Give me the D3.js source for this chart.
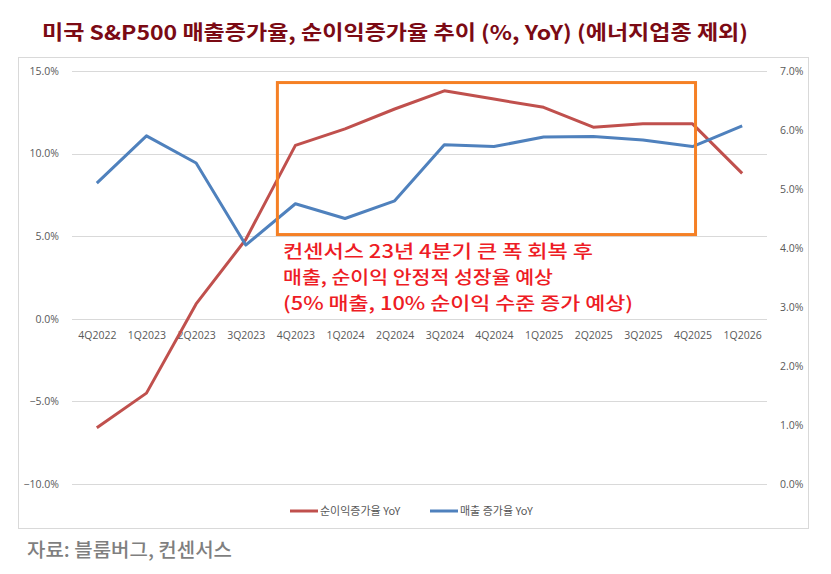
<!DOCTYPE html>
<html><head><meta charset="utf-8">
<script src="https://cdn.jsdelivr.net/npm/d3@7"></script>
<style>body{margin:0;background:#fff}svg{display:block}</style>
</head><body>
<svg id="c" width="831" height="574"></svg>
<script>
const categories = ["4Q2022","1Q2023","2Q2023","3Q2023","4Q2023","1Q2024","2Q2024","3Q2024","4Q2024","1Q2025","2Q2025","3Q2025","4Q2025","1Q2026"];
const netIncomeGrowth = [-6.6,-4.5,0.9,4.8,10.5,11.5,12.7,13.8,13.3,12.8,11.6,11.8,11.8,8.8];
const salesGrowth = [5.1,5.9,5.44,4.05,4.75,4.5,4.8,5.75,5.72,5.88,5.89,5.83,5.72,6.07];
const leftTicks = [-10,-5,0,5,10,15];
const rightTicks = [0,1,2,3,4,5,6,7];
const titleText = "미국 S&P500 매출증가율, 순이익증가율 추이 (%, YoY) (에너지업종 제외)";
const noteLines = ["컨센서스 23년 4분기 큰 폭 회복 후","매출, 순이익 안정적 성장율 예상","(5% 매출, 10% 순이익 수준 증가 예상)"];
const seriesNames = ["순이익증가율 YoY","매출 증가율 YoY"];
const boxRange = ["4Q2023","4Q2025"];
const sourceText = "자료: 블룸버그, 컨센서스";

const svg = d3.select("#c");
const font = "'Noto Sans CJK KR', sans-serif";
const plot = {l:72, r:767, t:71, b:484};
const x = d3.scalePoint().domain(categories).range([plot.l, plot.r]).padding(0.5);
const yL = d3.scaleLinear().domain([-10,15]).range([plot.b, plot.t]);
const yR = d3.scaleLinear().domain([0,7]).range([plot.b, plot.t]);

// chart border
svg.append("rect").attr("x",18.5).attr("y",57.5).attr("width",790).attr("height",471)
  .attr("fill","#fff").attr("stroke","#d9d9d9");

// title
svg.append("text").attr("x",395).attr("y",40).attr("text-anchor","middle")
  .attr("font-family",font).attr("font-weight","bold").attr("font-size",20)
  .attr("fill","#7b0a14").attr("textLength",706).attr("lengthAdjust","spacingAndGlyphs")
  .text(titleText);

// gridlines
svg.append("g").selectAll("line").data(leftTicks).join("line")
  .attr("x1",plot.l).attr("x2",plot.r).attr("y1",d=>Math.round(yL(d))+0.5).attr("y2",d=>Math.round(yL(d))+0.5)
  .attr("stroke","#d9d9d9");

// left axis
const la = svg.append("g").attr("transform",`translate(${plot.l-10},0)`)
  .call(d3.axisLeft(yL).tickValues(leftTicks).tickSize(0).tickFormat(d=>d3.format(".1f")(d)+"%"));
la.select(".domain").remove();
la.selectAll("text").attr("font-family","'Open Sans', sans-serif").attr("font-size",10.5).attr("fill","#595959");

// right axis
const ra = svg.append("g").attr("transform",`translate(${plot.r+10},0)`)
  .call(d3.axisRight(yR).tickValues(rightTicks).tickSize(0).tickFormat(d=>d3.format(".1f")(d)+"%"));
ra.select(".domain").remove();
ra.selectAll("text").attr("font-family","'Open Sans', sans-serif").attr("font-size",10.5).attr("fill","#595959");

// x axis labels at y=0
const xa = svg.append("g").attr("transform",`translate(0,${yL(0)+10})`)
  .call(d3.axisBottom(x).tickSize(0));
xa.select(".domain").remove();
xa.selectAll("text").attr("font-family","'Open Sans', sans-serif").attr("font-size",10.5).attr("fill","#595959");

// lines
const lineL = d3.line().x((d,i)=>x(categories[i])).y(d=>yL(d));
const lineR = d3.line().x((d,i)=>x(categories[i])).y(d=>yR(d));
svg.append("path").datum(netIncomeGrowth).attr("d",lineL).attr("fill","none")
  .attr("stroke","#c0504d").attr("stroke-width",3).attr("stroke-linejoin","round");
svg.append("path").datum(salesGrowth).attr("d",lineR).attr("fill","none")
  .attr("stroke","#4f81bd").attr("stroke-width",3).attr("stroke-linejoin","round");

// orange box
const bx0 = x(boxRange[0]) - 18, bx1 = x(boxRange[1]) + 3;
const by0 = yL(14.3), by1 = yL(5.1);
svg.append("rect").attr("x",bx0).attr("y",by0).attr("width",bx1-bx0).attr("height",by1-by0)
  .attr("fill","none").attr("stroke","#f58025").attr("stroke-width",3);

// annotation
const note = svg.append("g");
const noteWidths = [310, 270, 350];
noteLines.forEach((t,i)=>{
  note.append("text").attr("x",283).attr("y",258+i*26)
    .attr("font-family",font).attr("font-size",18).attr("font-weight","500").attr("fill","#ee1c25")
    .attr("textLength",noteWidths[i]).attr("lengthAdjust","spacingAndGlyphs").text(t);
});

// legend
const lg = svg.append("g");
const legendItems = [{name:seriesNames[0],color:"#c0504d",x:290},{name:seriesNames[1],color:"#4f81bd",x:430}];
legendItems.forEach(it=>{
  lg.append("line").attr("x1",it.x).attr("x2",it.x+28).attr("y1",511).attr("y2",511)
    .attr("stroke",it.color).attr("stroke-width",3);
  lg.append("text").attr("x",it.x+30).attr("y",515).attr("font-family",font).attr("font-size",11)
    .attr("fill","#595959").text(it.name);
});

// source
svg.append("text").attr("x",27).attr("y",557).attr("font-family",font).attr("font-size",19)
  .attr("font-weight","500").attr("fill","#7f7f7f").attr("textLength",205).attr("lengthAdjust","spacingAndGlyphs")
  .text(sourceText);
</script>
</body></html>
